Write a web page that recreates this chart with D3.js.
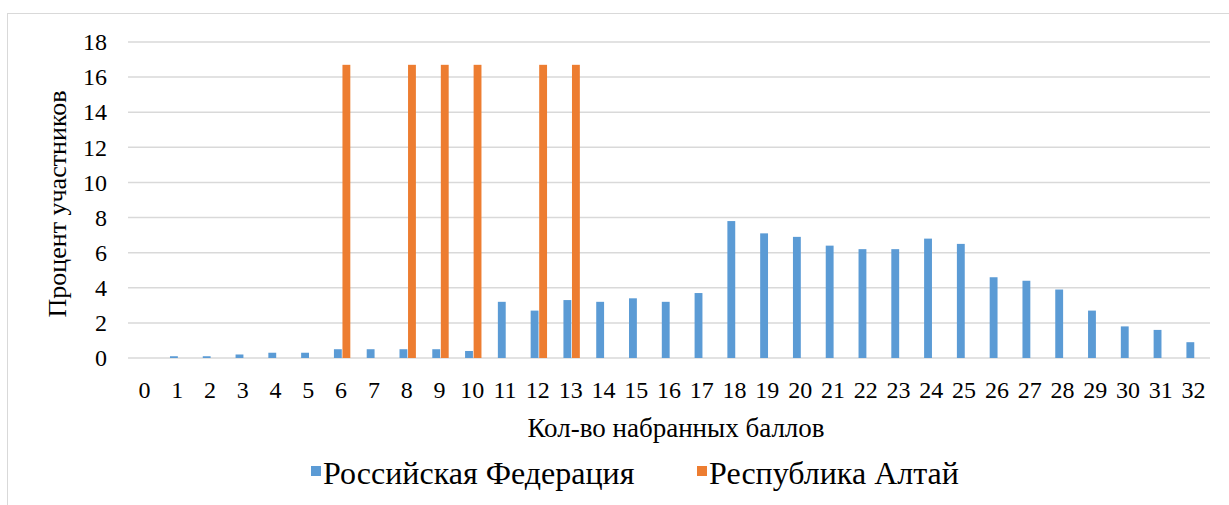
<!DOCTYPE html>
<html>
<head>
<meta charset="utf-8">
<script src="https://cdn.jsdelivr.net/npm/d3@7"></script>
</head>
<body style="margin:0;background:#fff">
<div id="chart"></div>
<script>
// scores 0..32
const scores = d3.range(0, 33).map(String);
const seriesNames = ["Российская Федерация", "Республика Алтай"];
const seriesColors = ["#5B9BD5", "#ED7D31"];

// percent of participants
const russia = [0, 0.1, 0.1, 0.2, 0.3, 0.3, 0.5, 0.5, 0.5, 0.5, 0.4, 3.2, 2.7, 3.3, 3.2, 3.4,
                3.2, 3.7, 7.8, 7.1, 6.9, 6.4, 6.2, 6.2, 6.8, 6.5, 4.6, 4.4, 3.9, 2.7, 1.8, 1.6, 0.9];
const altai = [0, 0, 0, 0, 0, 0, 16.7, 0, 16.7, 16.7, 16.7, 0, 16.7, 16.7, 0, 0,
               0, 0, 0, 0, 0, 0, 0, 0, 0, 0, 0, 0, 0, 0, 0, 0, 0];
const yTicks = [0, 2, 4, 6, 8, 10, 12, 14, 16, 18];

const width = 1229, height = 505;
const margin = {top: 42, right: 19, bottom: 147, left: 128};
const FONT = "Liberation Serif";

const svg = d3.select("#chart").append("svg")
    .attr("width", width)
    .attr("height", height);

// outer chart border
svg.append("rect")
    .attr("x", 7.5).attr("y", 13.5)
    .attr("width", width + 10).attr("height", height + 10)
    .attr("fill", "none")
    .attr("stroke", "#d9d9d9")
    .attr("stroke-width", 1);

const x0 = d3.scaleBand()
    .domain(scores)
    .range([margin.left + 1, width - margin.right + 1])
    .paddingInner(0.5)
    .paddingOuter(0.25);

const x1 = d3.scaleBand()
    .domain([0, 1])
    .range([0, x0.bandwidth()])
    .paddingInner(0.08);

const y = d3.scaleLinear()
    .domain([0, 18])
    .range([height - margin.bottom, margin.top]);

// gridlines
svg.append("g")
    .selectAll("line")
    .data(yTicks)
    .join("line")
    .attr("x1", margin.left)
    .attr("x2", width - margin.right)
    .attr("y1", d => y(d))
    .attr("y2", d => y(d))
    .attr("stroke", "#d9d9d9")
    .attr("stroke-width", 1.5);

// y axis labels
const yAxis = d3.axisLeft(y).tickValues(yTicks).tickSize(0).tickPadding(21);
svg.append("g")
    .attr("transform", "translate(" + margin.left + ",0)")
    .call(yAxis)
    .call(g => g.select(".domain").remove())
    .selectAll("text")
    .attr("fill", "#000")
    .style("font-family", FONT)
    .style("font-size", "24px");

// x axis labels
const xAxis = d3.axisBottom(x0).tickSize(0).tickPadding(23);
svg.append("g")
    .attr("transform", "translate(-1," + y(0) + ")")
    .call(xAxis)
    .call(g => g.select(".domain").remove())
    .selectAll("text")
    .attr("fill", "#000")
    .style("font-family", FONT)
    .style("font-size", "24px");

// bars
const series = [russia, altai];
series.forEach((vals, si) => {
    svg.append("g")
        .selectAll("rect")
        .data(vals)
        .join("rect")
        .attr("x", (d, i) => x0(scores[i]) + x1(si))
        .attr("width", x1.bandwidth())
        .attr("y", d => y(d))
        .attr("height", d => y(0) - y(d))
        .attr("fill", seriesColors[si]);
});

// axis titles
svg.append("text")
    .attr("transform", "translate(66,204) rotate(-90)")
    .attr("text-anchor", "middle")
    .style("font-family", FONT)
    .style("font-size", "26px")
    .text("Процент участников");

svg.append("text")
    .attr("x", 676)
    .attr("y", 437)
    .attr("text-anchor", "middle")
    .style("font-family", FONT)
    .style("font-size", "27px")
    .text("Кол-во набранных баллов");

// legend
const legendX = [311, 697];
const legend = svg.append("g");
seriesNames.forEach((name, i) => {
    legend.append("rect")
        .attr("x", legendX[i]).attr("y", 466)
        .attr("width", 10).attr("height", 10)
        .attr("fill", seriesColors[i]);
    legend.append("text")
        .attr("x", legendX[i] + 12)
        .attr("y", 484)
        .style("font-family", FONT)
        .style("font-size", "32px")
        .text(name);
});
</script>
</body>
</html>
